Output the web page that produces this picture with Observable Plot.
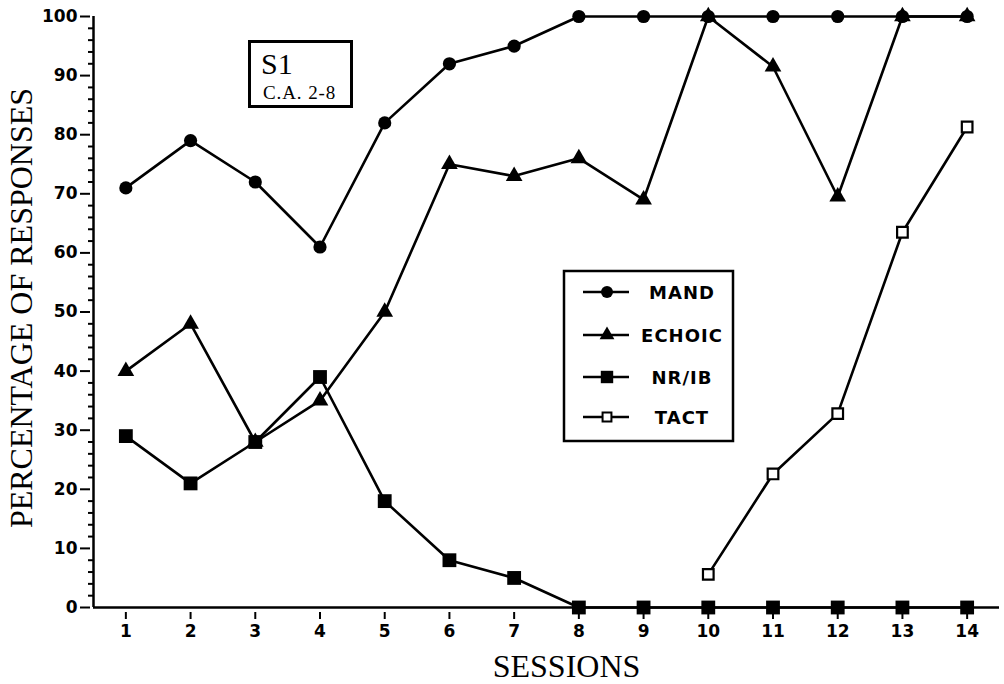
<!DOCTYPE html>
<html><head><meta charset="utf-8">
<script src="https://cdn.jsdelivr.net/npm/d3@7"></script>
<script src="https://cdn.jsdelivr.net/npm/@observablehq/plot@0.6"></script>
<style>
body{margin:0;background:#fff;}
#wrap{position:relative;width:1004px;height:684px;}
#over{position:absolute;left:0;top:0;pointer-events:none;}
g[aria-label*="tick label"] text{font-size:17px;font-weight:bold;font-family:"DejaVu Sans";}
</style></head><body><div id="wrap"></div>
<script>
// ---- data ----
const sessions = [1,2,3,4,5,6,7,8,9,10,11,12,13,14];
const mand   = [71,79,72,61,82,92,95,100,100,100,100,100,100,100];
const echoic = [40,48,28,35,50,75,73,76,69,100,91.5,69.5,100,100];
const nrib   = [29,21,28,39,18,8,5,0,0,0,0,0,0,0];
const tactSessions = [10,11,12,13,14];
const tact   = [5.6,22.6,32.8,63.5,81.3];
const yTicks = [0,10,20,30,40,50,60,70,80,90,100];
const yMinor = d3.range(0,101,2).filter(v => v % 10 !== 0);
const seriesNames = ["MAND","ECHOIC","NR/IB","TACT"];
const boxTitle = "S1";
const boxSub = "C.A. 2-8";
const yLabel = "PERCENTAGE OF RESPONSES";
const xLabel = "SESSIONS";

const xDomain = [0.5, 14.5];
const yDomain = [0, 100];

const rowsOf = (name, xs, vs) => xs.map((s,i) => ({series:name, s, v:vs[i]}));
const mandRows = rowsOf("MAND", sessions, mand);
const echoRows = rowsOf("ECHOIC", sessions, echoic);
const nribRows = rowsOf("NR/IB", sessions, nrib);
const tactRows = rowsOf("TACT", tactSessions, tact);

const SW = 2.6;
const plot = Plot.plot({
  width:1004, height:684,
  marginLeft:93, marginRight:5, marginTop:16, marginBottom:77,
  x:{domain:xDomain}, y:{domain:yDomain},
  style:{fontFamily:"DejaVu Sans", color:"#000", background:"#fff", overflow:"visible"},
  marks:[
    Plot.axisY(yMinor, {tickSize:5, tickFormat:() => "", strokeWidth:2, label:null}),
    Plot.axisY(yTicks, {tickSize:10, tickPadding:3, dx:-3, strokeWidth:2, label:null, fontSize:17}),
    Plot.axisX(sessions, {tickSize:7, tickPadding:5, dy:5, strokeWidth:2, label:null, fontSize:17}),
    Plot.ruleX([xDomain[0]], {strokeWidth:2.5}),
    Plot.ruleY([yDomain[0]], {strokeWidth:2.5}),
    Plot.line(nribRows, {x:"s", y:"v", stroke:"#000", strokeWidth:SW}),
    Plot.line(mandRows, {x:"s", y:"v", stroke:"#000", strokeWidth:SW}),
    Plot.line(echoRows, {x:"s", y:"v", stroke:"#000", strokeWidth:SW}),
    Plot.line(tactRows, {x:"s", y:"v", stroke:"#000", strokeWidth:SW}),
    Plot.dot(nribRows, {x:"s", y:"v", symbol:"square", r:7.8, fill:"#000"}),
    Plot.dot(mandRows, {x:"s", y:"v", symbol:"circle", r:6.6, fill:"#000"}),
    Plot.dot(echoRows, {x:"s", y:"v", symbol:"triangle", r:6.2, fill:"#000"}),
    Plot.dot(tactRows, {x:"s", y:"v", symbol:"square", r:6, fill:"#fff", stroke:"#000", strokeWidth:2.2}),
    Plot.text([yLabel], {frameAnchor:"left", rotate:-90, dx:-72, dy:-4, textAnchor:"middle", lineAnchor:"middle",
      fontFamily:"Liberation Serif", fontSize:32}),
    Plot.text([xLabel], {frameAnchor:"bottom", dx:20, dy:59, textAnchor:"middle", lineAnchor:"middle",
      fontFamily:"Liberation Serif", fontSize:32})
  ]
});
const wrap = document.getElementById("wrap");
wrap.appendChild(plot);

// ---- overlay: title box and legend ----
const svg = d3.select(wrap).append("svg").attr("id","over").attr("width",1004).attr("height",684);
svg.append("rect").attr("x",249.5).attr("y",41.5).attr("width",102).attr("height",65)
  .attr("fill","#fff").attr("stroke","#000").attr("stroke-width",3);
svg.append("text").attr("x",261).attr("y",74).attr("font-family","Liberation Serif")
  .attr("font-size",30).text(boxTitle);
svg.append("text").attr("x",263).attr("y",99).attr("font-family","Liberation Serif")
  .attr("font-size",19).attr("letter-spacing",0.9).text(boxSub);

svg.append("rect").attr("x",564).attr("y",271).attr("width",169).attr("height",170)
  .attr("fill","#fff").attr("stroke","#000").attr("stroke-width",2.5);
const legY = [292,335,377,417];
const legSym = [
  {t:d3.symbolCircle, size:Math.PI*6*6, fill:"#000", stroke:"none"},
  {t:d3.symbolTriangle, size:Math.PI*5.5*5.5, fill:"#000", stroke:"none"},
  {t:d3.symbolSquare, size:Math.PI*7*7, fill:"#000", stroke:"none"},
  {t:d3.symbolSquare, size:Math.PI*5*5, fill:"#fff", stroke:"#000"}
];
seriesNames.forEach((name,i) => {
  const g = svg.append("g");
  g.append("line").attr("x1",583).attr("x2",629).attr("y1",legY[i]).attr("y2",legY[i])
    .attr("stroke","#000").attr("stroke-width",2.5);
  g.append("path").attr("transform",`translate(607,${legY[i]})`)
    .attr("d", d3.symbol(legSym[i].t, legSym[i].size)())
    .attr("fill",legSym[i].fill).attr("stroke",legSym[i].stroke).attr("stroke-width",2);
  g.append("text").attr("x",682).attr("y",legY[i]+6.5).attr("text-anchor","middle")
    .attr("font-family","DejaVu Sans").attr("font-size",18).attr("font-weight","bold")
    .attr("letter-spacing",1).text(name);
});
</script></body></html>
